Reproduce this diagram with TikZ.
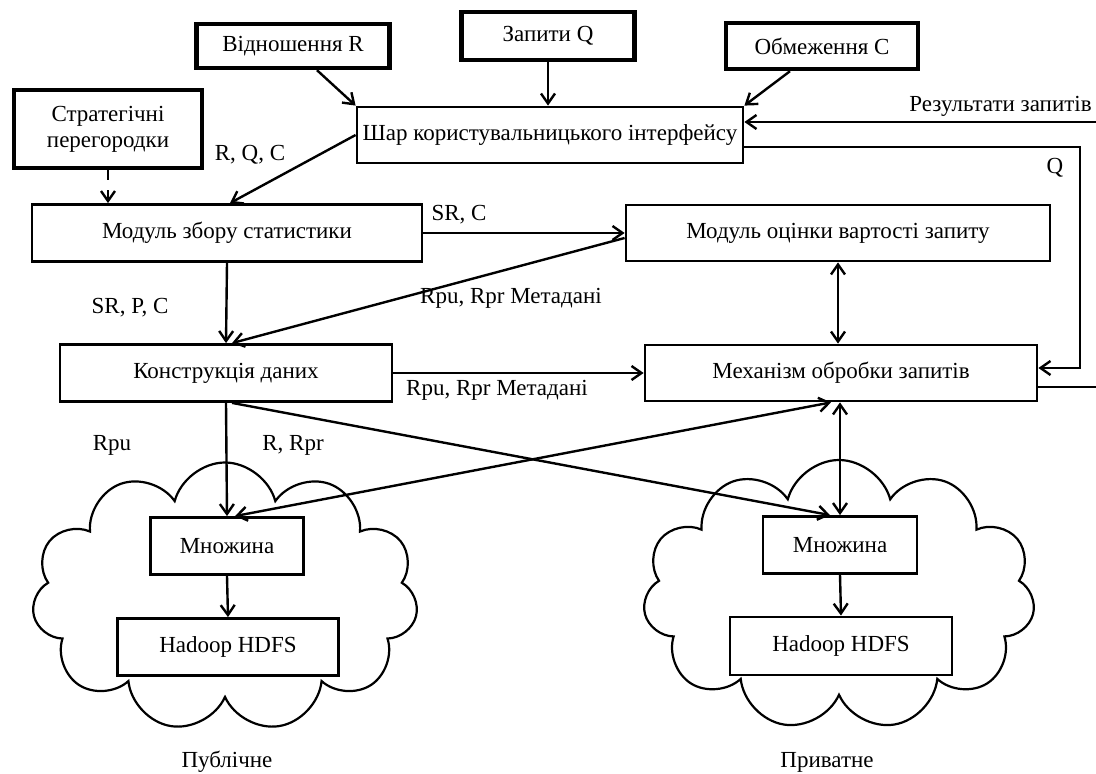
\documentclass[tikz,border=0pt]{standalone}
\usepackage{fontspec}
\setmainfont{Liberation Serif}
\usetikzlibrary{arrows.meta,shapes.symbols}

\tikzset{
  inbox/.style={draw, line width=2.2pt, inner sep=2pt, align=center},
  modbox/.style={draw, line width=1.4pt, inner sep=2pt},
  puff/.style={draw, cloud, cloud puffs=11, cloud ignores aspect, line width=1.1pt},
  conn/.style={line width=1.2pt, -{Straight Barb[length=5pt,width=7pt]}},
  both/.style={line width=1.2pt, {Straight Barb[length=5pt,width=7pt]}-{Straight Barb[length=5pt,width=7pt]}},
  lbl/.style={inner sep=0pt}
}

\begin{document}
\begin{tikzpicture}[x=0.5pt,y=-0.5pt,font=\fontsize{11.5}{13}\selectfont]
\useasboundingbox (0,0) rectangle (1096,774);

\node[puff, minimum width=193pt, minimum height=134.5pt] (cloudL) at (225,597) {};
\node[puff, minimum width=196pt, minimum height=135pt] (cloudR) at (839,595) {};

\node[inbox, minimum width=96.5pt, minimum height=22pt] (relR) at (293,46) {Відношення R};
\node[inbox, minimum width=86.5pt, minimum height=24pt] (qryQ) at (548,36) {Запити Q};
\node[inbox, minimum width=96pt, minimum height=23pt] (conC) at (822,46) {Обмеження С};
\node[inbox, minimum width=94pt, minimum height=39pt] (strat) at (108,129) {Стратегічні\\перегородки};

\node[modbox, minimum width=193pt, minimum height=28pt] (ui) at (550,135) {Шар користувальницького інтерфейсу};
\node[modbox, minimum width=195pt, minimum height=28.5pt] (stat) at (227,233) {Модуль збору статистики};
\node[modbox, minimum width=212pt, minimum height=28pt] (cost) at (838,233) {Модуль оцінки вартості запиту};
\node[modbox, minimum width=166pt, minimum height=28.5pt] (cons) at (226,373) {Конструкція даних};
\node[modbox, minimum width=196pt, minimum height=28pt] (eng) at (841,373) {Механізм обробки запитів};

\node[modbox, minimum width=76.5pt, minimum height=28.5pt] (setL) at (227,546) {Множина};
\node[modbox, minimum width=110.5pt, minimum height=28.5pt] (hdfsL) at (228,647) {Hadoop HDFS};
\node[modbox, minimum width=77pt, minimum height=28.5pt] (setR) at (840,545) {Множина};
\node[modbox, minimum width=111pt, minimum height=29pt] (hdfsR) at (841,646) {Hadoop HDFS};

\coordinate (resIn) at (1100,122);
\coordinate (resOut) at (1100,387);
\coordinate (qTurn) at (1080,147);

\draw[conn] ([xshift=12pt]relR.south) -- (ui.north west);
\draw[conn] (qryQ.south) -- (qryQ.south |- ui.north);
\draw[conn] ([xshift=-16pt]conC.south) -- (ui.north east);
\draw[conn, dash pattern=on 5pt off 5pt] (strat.south) -- (strat.south |- stat.north);
\draw[conn] (ui.west) -- ([xshift=1.5pt]stat.north);
\draw[conn] (stat.east) -- (cost.west);
\draw[conn] ([yshift=-2.5pt]cost.west) -- ([xshift=3pt]cons.north);
\draw[conn] (stat.south) -- (cons.north);
\draw[both] (cost.south) -- (cost.south |- eng.north);
\draw[conn] ([yshift=-6pt]ui.east) -- (qTurn) |- ([yshift=2.5pt]eng.east);
\draw[conn] (resIn) -- ([yshift=6.5pt]ui.east);
\draw[line width=1.2pt] ([yshift=-7pt]eng.east) -- (resOut);
\draw[conn] (cons.east) -- (eng.west);
\draw[conn] (cons.south) -- (setL.north);
\draw[conn] ([xshift=3pt]cons.south) -- ([xshift=-5pt]setR.north);
\draw[both] ([xshift=-5pt]eng.south) -- ([xshift=4pt]setL.north);
\draw[both] (eng.south -| setR.north) -- (setR.north);
\draw[conn] (setL.south) -- (hdfsL.north);
\draw[conn] (setR.south) -- (hdfsR.north);

\node[lbl] (lRQC) at (250,155) {R, Q, C};
\node[lbl] (lSRC) at (459,215) {SR, C};
\node[lbl] (lSRPC) at (130,308) {SR, P, C};
\node[lbl] (lMeta1) at (511,298) {Rpu, Rpr Метадані};
\node[lbl] (lMeta2) at (497,390) {Rpu, Rpr Метадані};
\node[lbl] (lQ) at (1055,168) {Q};
\node[lbl, anchor=east] (lRes) at (1092,106) {Результати запитів};
\node[lbl] (lRpu) at (112,445) {Rpu};
\node[lbl] (lRRpr) at (293,445) {R, Rpr};
\node[lbl] (lPub) at (227,762) {Публічне};
\node[lbl] (lPriv) at (827,762) {Приватне};

\end{tikzpicture}
\end{document}
